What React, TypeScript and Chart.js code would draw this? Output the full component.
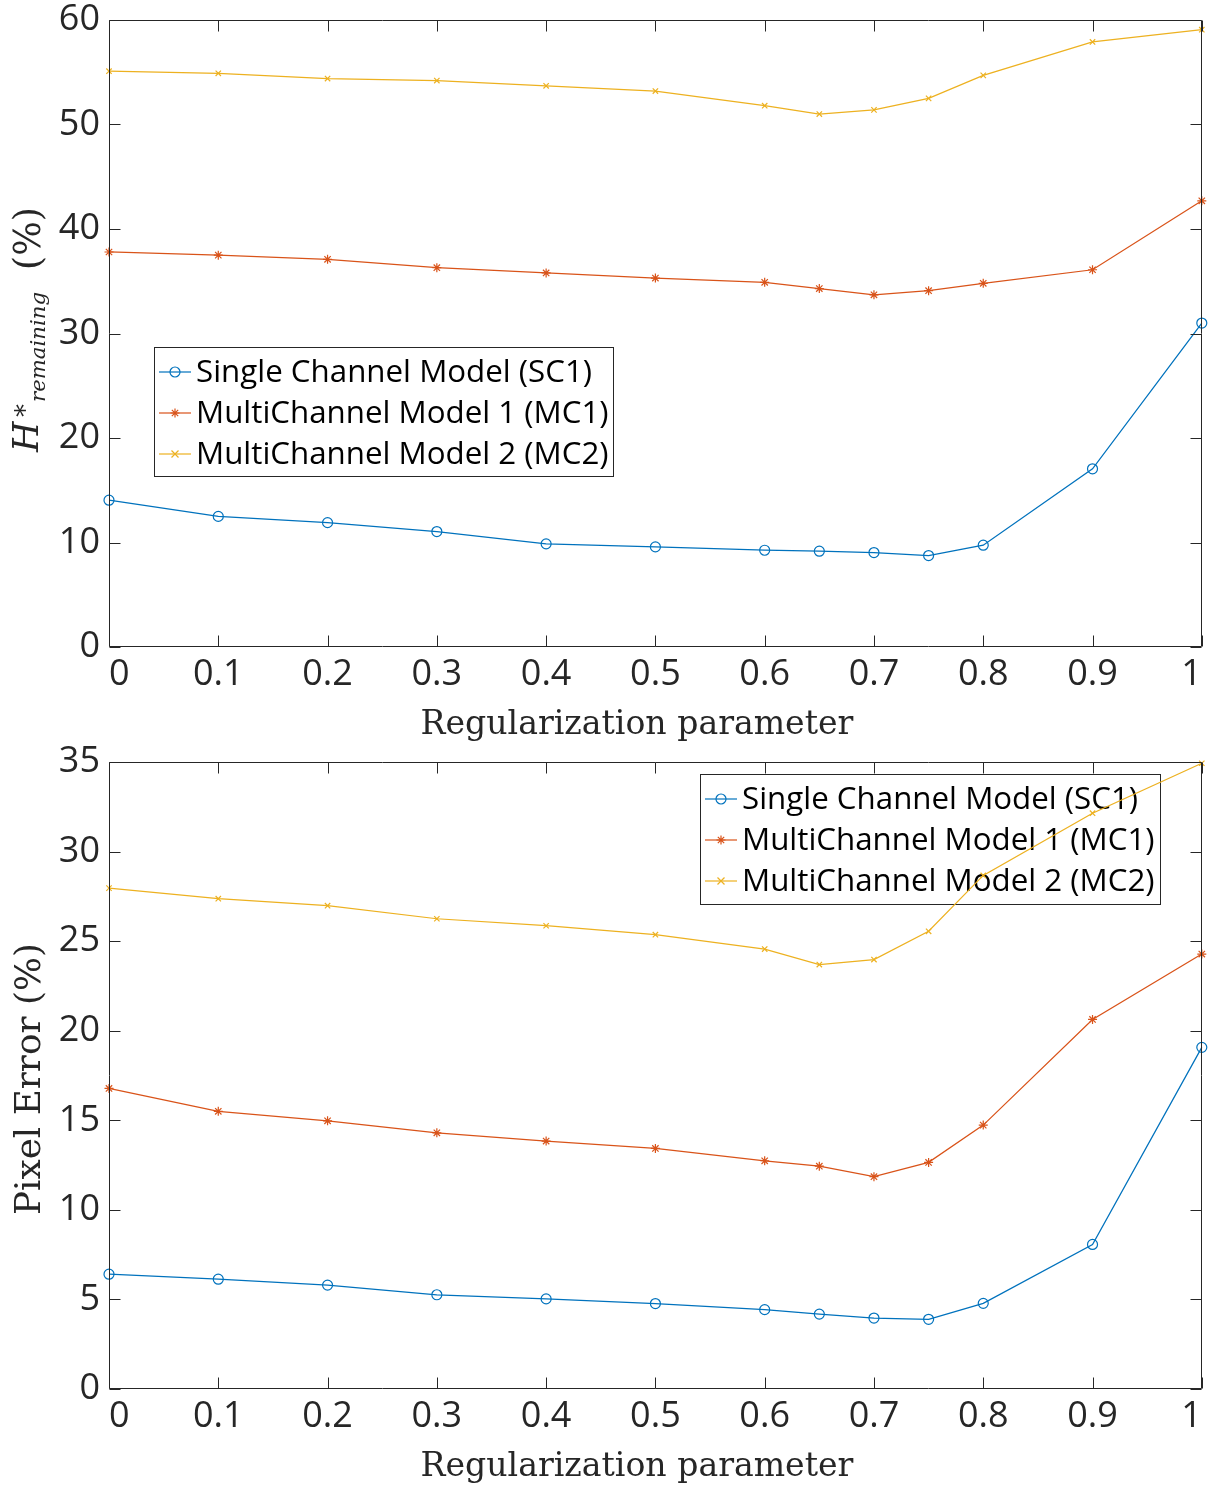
import React, { useEffect, useRef } from 'react';
import { Chart, registerables } from 'chart.js';

Chart.register(...registerables);

// ---------- data ----------
const xValues = [0, 0.1, 0.2, 0.3, 0.4, 0.5, 0.6, 0.65, 0.7, 0.75, 0.8, 0.9, 1];
const xTicks = [0, 0.1, 0.2, 0.3, 0.4, 0.5, 0.6, 0.7, 0.8, 0.9, 1];
const xTickLabels = ['0', '0.1', '0.2', '0.3', '0.4', '0.5', '0.6', '0.7', '0.8', '0.9', '1'];

const topYTicks = [0, 10, 20, 30, 40, 50, 60];
const topYTickLabels = ['0', '10', '20', '30', '40', '50', '60'];
const bottomYTicks = [0, 5, 10, 15, 20, 25, 30, 35];
const bottomYTickLabels = ['0', '5', '10', '15', '20', '25', '30', '35'];

const topSC1 = [14.05, 12.5, 11.9, 11.05, 9.87, 9.58, 9.26, 9.17, 9.04, 8.75, 9.74, 17.05, 31.0];
const topMC1 = [37.8, 37.5, 37.1, 36.3, 35.8, 35.3, 34.9, 34.3, 33.7, 34.1, 34.8, 36.1, 42.7];
const topMC2 = [55.1, 54.9, 54.4, 54.2, 53.7, 53.2, 51.8, 51.0, 51.4, 52.5, 54.7, 57.9, 59.07];

const bottomSC1 = [6.41, 6.13, 5.8, 5.26, 5.03, 4.77, 4.43, 4.18, 3.96, 3.89, 4.78, 8.07, 19.07];
const bottomMC1 = [16.78, 15.5, 14.97, 14.3, 13.84, 13.43, 12.74, 12.44, 11.85, 12.65, 14.73, 20.63, 24.28];
const bottomMC2 = [27.96, 27.37, 26.98, 26.25, 25.86, 25.36, 24.56, 23.69, 23.97, 25.55, 28.67, 32.14, 34.93];

const seriesNames = ['Single Channel Model (SC1)', 'MultiChannel Model 1 (MC1)', 'MultiChannel Model 2 (MC2)'];
const seriesColors = ['#0072BD', '#D95319', '#EDB120'];
const seriesMarkers = ['circle', 'star', 'crossRot'];
const seriesMarkerSizes = [5, 4.5, 3.8];

const xTitle = 'Regularization parameter';
const bottomYTitle = 'Pixel Error (%)';

// ---------- styling ----------
const AXIS_COLOR = '#262626';
const TICK_FONT = '"Open Sans", "Noto Sans", sans-serif';
const SERIF = '"DejaVu Serif", "Liberation Serif", serif';
const CANVAS_W = 1208;
const CANVAS_H = 744;

function fitSize(ctx: CanvasRenderingContext2D, text: string, style: string, family: string, target: number, base = 30) {
  ctx.font = `${style} ${base}px ${family}`;
  const w = ctx.measureText(text).width;
  return (base * target) / w;
}

function drawMarker(ctx: CanvasRenderingContext2D, style: string, x: number, y: number, r: number) {
  ctx.beginPath();
  if (style === 'circle') {
    ctx.arc(x, y, r, 0, Math.PI * 2);
  } else if (style === 'star') {
    ctx.moveTo(x - r, y); ctx.lineTo(x + r, y);
    ctx.moveTo(x, y - r); ctx.lineTo(x, y + r);
    const d = r * Math.SQRT1_2;
    ctx.moveTo(x - d, y - d); ctx.lineTo(x + d, y + d);
    ctx.moveTo(x - d, y + d); ctx.lineTo(x + d, y - d);
  } else {
    const d = r * Math.SQRT1_2 * 1.3;
    ctx.moveTo(x - d, y - d); ctx.lineTo(x + d, y + d);
    ctx.moveTo(x - d, y + d); ctx.lineTo(x + d, y - d);
  }
  ctx.stroke();
}

type PanelProps = {
  values: number[][];
  yTicks: number[];
  yTickLabels: string[];
  yMax: number;
  padTop: number;
  xAxisHeight: number;
  legendBox: { left: number; top: number; w: number; h: number };
  titleBaseline: number;
  kind: 'H' | 'pixel';
  offsetTop: number;
};

function Panel(props: PanelProps) {
  const ref = useRef<HTMLCanvasElement | null>(null);

  useEffect(() => {
    const canvas = ref.current;
    if (!canvas) return;
    const { values, yTicks, yTickLabels, yMax, padTop, xAxisHeight, legendBox, titleBaseline, kind } = props;

    const decor = {
      id: 'decor',
      beforeDatasetsDraw(chart: any) {
        const ctx: CanvasRenderingContext2D = chart.ctx;
        ctx.save();
        // legend box (no fill, lines are drawn above it)
        ctx.strokeStyle = AXIS_COLOR;
        ctx.lineWidth = 1;
        ctx.strokeRect(legendBox.left + 0.5, legendBox.top + 0.5, legendBox.w, legendBox.h);
        const rows = [25, 66, 107];
        for (let i = 0; i < 3; i++) {
          const ry = legendBox.top + rows[i];
          ctx.strokeStyle = seriesColors[i];
          ctx.lineWidth = 1.2;
          ctx.beginPath();
          ctx.moveTo(legendBox.left + 5, ry);
          ctx.lineTo(legendBox.left + 37, ry);
          ctx.stroke();
          drawMarker(ctx, seriesMarkers[i], legendBox.left + 21, ry, seriesMarkerSizes[i]);
          ctx.fillStyle = '#000';
          ctx.font = `31.3px ${TICK_FONT}`;
          ctx.textBaseline = 'middle';
          ctx.textAlign = 'left';
          ctx.fillText(seriesNames[i], legendBox.left + 42, ry + 1);
        }
        ctx.restore();
      },
      afterDraw(chart: any) {
        const ctx: CanvasRenderingContext2D = chart.ctx;
        const { left, right, top, bottom } = chart.chartArea;
        const xs = chart.scales.x;
        const ys = chart.scales.y;
        ctx.save();
        ctx.strokeStyle = AXIS_COLOR;
        ctx.lineWidth = 1;
        const L = Math.round(left) + 0.5;
        const R = Math.round(right) - 0.5;
        const T = Math.round(top) + 0.5;
        const B = Math.round(bottom) - 0.5;
        ctx.beginPath();
        ctx.rect(L, T, R - L, B - T);
        const tl = 11;
        xTicks.forEach((v) => {
          const px = Math.round(xs.getPixelForValue(v)) + 0.5;
          ctx.moveTo(px, B); ctx.lineTo(px, B - tl);
          ctx.moveTo(px, T); ctx.lineTo(px, T + tl);
        });
        yTicks.forEach((v) => {
          const py = Math.round(ys.getPixelForValue(v)) + 0.5;
          ctx.moveTo(L, py); ctx.lineTo(L + tl, py);
          ctx.moveTo(R, py); ctx.lineTo(R - tl, py);
        });
        ctx.stroke();

        // x title
        ctx.fillStyle = AXIS_COLOR;
        const xs2 = fitSize(ctx, xTitle, '', SERIF, 433);
        ctx.font = `${xs2}px ${SERIF}`;
        ctx.textAlign = 'center';
        ctx.textBaseline = 'alphabetic';
        ctx.fillText(xTitle, 637, titleBaseline);

        // y title
        ctx.textAlign = 'left';
        if (kind === 'H') {
          const startY = 452; // page y where text starts (bottom)
          const drawPiece = (text: string, font: string, localX: number, baselineX: number) => {
            ctx.save();
            ctx.translate(baselineX, startY - localX);
            ctx.rotate(-Math.PI / 2);
            ctx.font = font;
            ctx.fillText(text, 0, 0);
            ctx.restore();
          };
          drawPiece('H', `italic 35px ${SERIF}`, 0, 38);
          drawPiece('*', `26px ${SERIF}`, 35, 34);
          const rs = fitSize(ctx, 'remaining', 'italic', SERIF, 110);
          drawPiece('remaining', `italic ${rs}px ${SERIF}`, 50, 45);
          const ps = fitSize(ctx, '(%)', '', SERIF, 63);
          drawPiece('(%)', `${ps}px ${SERIF}`, 182, 40);
        } else {
          const s = fitSize(ctx, bottomYTitle, '', SERIF, 272);
          ctx.save();
          ctx.translate(40, 1215 - 744);
          ctx.rotate(-Math.PI / 2);
          ctx.font = `${s}px ${SERIF}`;
          ctx.fillText(bottomYTitle, 0, 0);
          ctx.restore();
        }
        ctx.restore();
      },
    };

    const chart = new Chart(canvas, {
      type: 'line',
      data: {
        datasets: values.map((vals, i) => ({
          label: seriesNames[i],
          data: xValues.map((x, j) => ({ x, y: vals[j] })),
          borderColor: seriesColors[i],
          backgroundColor: 'rgba(0,0,0,0)',
          borderWidth: 1.25,
          pointStyle: seriesMarkers[i] as any,
          pointRadius: seriesMarkerSizes[i],
          pointBorderWidth: 1.2,
          pointBorderColor: seriesColors[i],
          pointBackgroundColor: 'rgba(0,0,0,0)',
          tension: 0,
          clip: false as any,
        })),
      },
      options: {
        responsive: false,
        animation: false,
        devicePixelRatio: 1,
        layout: { padding: { top: padTop, right: 5, left: 0, bottom: 0 } },
        plugins: { legend: { display: false }, tooltip: { enabled: false }, title: { display: false } },
        scales: {
          x: {
            type: 'linear',
            min: 0,
            max: 1,
            grid: { display: false, drawTicks: false },
            border: { display: false },
            afterBuildTicks: (scale: any) => {
              scale.ticks = xTicks.map((v) => ({ value: v }));
            },
            afterFit: (scale: any) => {
              scale.height = xAxisHeight;
              scale.paddingLeft = 0;
              scale.paddingRight = 0;
            },
            ticks: {
              align: 'inner',
              maxRotation: 0,
              autoSkip: false,
              padding: 6,
              color: AXIS_COLOR,
              font: { family: TICK_FONT, size: 36 },
              callback: (v: any) => {
                const idx = xTicks.findIndex((t) => Math.abs(t - Number(v)) < 1e-9);
                return idx >= 0 ? xTickLabels[idx] : '';
              },
            },
          },
          y: {
            type: 'linear',
            min: 0,
            max: yMax,
            grid: { display: false, drawTicks: false },
            border: { display: false },
            afterBuildTicks: (scale: any) => {
              scale.ticks = yTicks.map((v) => ({ value: v }));
            },
            afterFit: (scale: any) => {
              scale.width = 109;
              scale.paddingTop = 0;
              scale.paddingBottom = 0;
            },
            ticks: {
              autoSkip: false,
              padding: 9,
              color: AXIS_COLOR,
              font: { family: TICK_FONT, size: 36 },
              callback: (v: any) => {
                const idx = yTicks.findIndex((t) => Math.abs(t - Number(v)) < 1e-9);
                return idx >= 0 ? yTickLabels[idx] : '';
              },
            },
          },
        },
      },
      plugins: [decor],
    } as any);

    if ((document as any).fonts && (document as any).fonts.load) {
      Promise.all([
        document.fonts.load(`36px "Open Sans"`),
        document.fonts.load(`30px "DejaVu Serif"`),
        document.fonts.load(`italic 30px "DejaVu Serif"`),
      ]).then(() => chart.update()).catch(() => {});
    }

    return () => chart.destroy();
  }, []);

  return (
    <canvas
      ref={ref}
      width={CANVAS_W}
      height={CANVAS_H}
      style={{ position: 'absolute', left: 0, top: props.offsetTop, width: CANVAS_W, height: CANVAS_H, display: 'block' }}
    />
  );
}

export default function App() {
  return (
    <div style={{ position: 'absolute', left: 0, top: 0, width: 1208, height: 1488, background: '#ffffff' }}>
      <Panel
        values={[topSC1, topMC1, topMC2]}
        yTicks={topYTicks}
        yTickLabels={topYTickLabels}
        yMax={60}
        padTop={20}
        xAxisHeight={97}
        legendBox={{ left: 154, top: 347, w: 459, h: 129 }}
        titleBaseline={734}
        kind="H"
        offsetTop={0}
      />
      <Panel
        values={[bottomSC1, bottomMC1, bottomMC2]}
        yTicks={bottomYTicks}
        yTickLabels={bottomYTickLabels}
        yMax={35}
        padTop={18}
        xAxisHeight={99}
        legendBox={{ left: 700, top: 30, w: 460, h: 130 }}
        titleBaseline={732}
        kind="pixel"
        offsetTop={744}
      />
    </div>
  );
}
